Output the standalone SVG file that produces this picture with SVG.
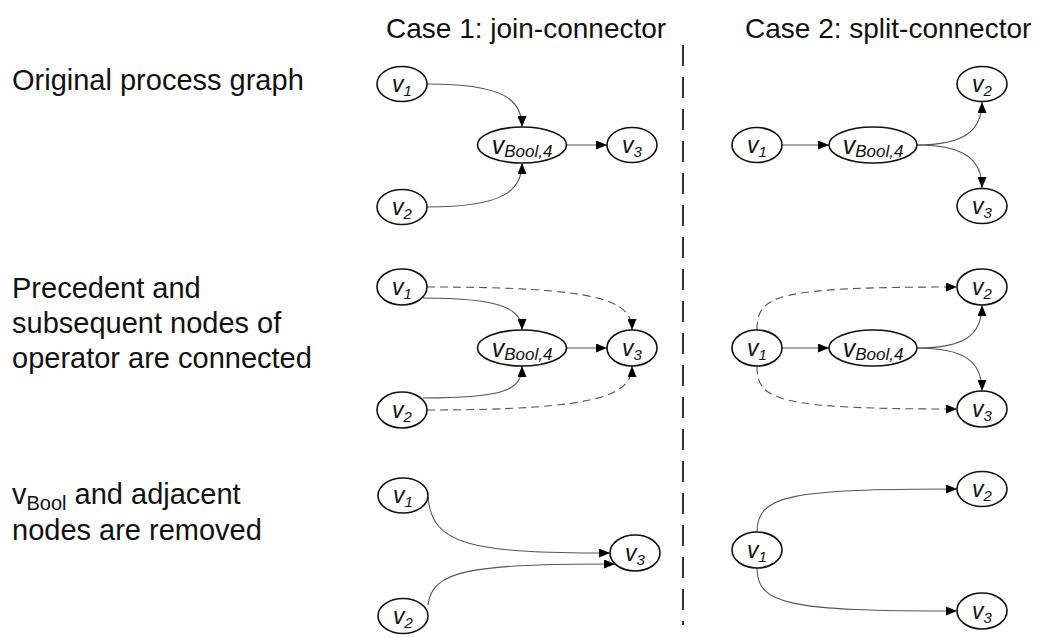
<svg xmlns="http://www.w3.org/2000/svg" width="1051" height="638" viewBox="0 0 1051 638">
<defs>
<marker id="arr" viewBox="0 0 11 9" refX="11" refY="4.5" markerWidth="11" markerHeight="9" markerUnits="userSpaceOnUse" orient="auto">
<path d="M0,0 L11,4.5 L0,9 Z" fill="#000"/>
</marker>
</defs>
<style>
.lbl{font-family:"Liberation Sans",Arial,sans-serif;font-size:29px;fill:#111}
.hdr{font-size:28px}
.nd ellipse{fill:#fff;stroke:#111;stroke-width:1.6}
.nt{font-family:"Liberation Sans",Arial,sans-serif;font-style:italic;font-size:23px;fill:#111;text-anchor:middle}
.sub{font-size:15px}
.ntb{font-size:25px}
.subb{font-size:17px}
.e{fill:none;stroke:#555;stroke-width:1.1;marker-end:url(#arr)}
.d{stroke-dasharray:8 5}
.sep{stroke:#333;stroke-width:2;stroke-dasharray:21 11}
</style>
<rect width="1051" height="638" fill="#fff"/>

<g id="labels">
<text class="lbl hdr" x="386" y="38">Case 1: join-connector</text>
<text class="lbl hdr" x="745" y="38">Case 2: split-connector</text>
<text class="lbl" x="12" y="90">Original process graph</text>
<text class="lbl" x="12" y="298">Precedent and</text>
<text class="lbl" x="12" y="333">subsequent nodes of</text>
<text class="lbl" x="12" y="368">operator are connected</text>
<text class="lbl" x="12" y="504">v<tspan font-size="20" dy="6">Bool</tspan><tspan dy="-6"> and adjacent</tspan></text>
<text class="lbl" x="12" y="540">nodes are removed</text>
</g>

<line id="separator" class="sep" x1="683" y1="45" x2="683" y2="625"/>

<g id="connectors">
<!-- row 1 join -->
<path class="e" d="M427,84 C505,84 522,100 522,127"/>
<path class="e" d="M427,207 C505,207 522,190 522,163"/>
<path class="e" d="M567,145 L607,145"/>
<!-- row 1 split -->
<path class="e" d="M782,145 L829,145"/>
<path class="e" d="M917,145 C965,145 982,130 982,102"/>
<path class="e" d="M917,145 C965,145 982,160 982,188"/>
<!-- row 2 join -->
<path class="e" d="M423,298 C505,298 522,310 522,330"/>
<path class="e d" d="M427,287 C600,287 632,300 632,330"/>
<path class="e" d="M423,398 C505,398 522,390 522,366"/>
<path class="e d" d="M427,410 C600,410 632,395 632,366"/>
<path class="e" d="M567,348 L607,348"/>
<!-- row 2 split -->
<path class="e d" d="M757,330 C757,295 775,287 957,287"/>
<path class="e d" d="M757,366 C757,400 775,409 957,409"/>
<path class="e" d="M782,348 L829,348"/>
<path class="e" d="M917,348 C965,348 982,335 982,305"/>
<path class="e" d="M917,348 C965,348 982,362 982,391"/>
<!-- row 3 join -->
<path class="e" d="M428,497 C432,545 470,553 610,553"/>
<path class="e" d="M428,605 C432,570 470,564 615,564"/>
<!-- row 3 split -->
<path class="e" d="M757,532 C757,495 790,489 957,489"/>
<path class="e" d="M757,568 C757,605 790,611 957,611"/>
</g>

<!-- Row 1, case 1 -->
<g id="r1c1-v1" class="nd"><ellipse cx="402" cy="84" rx="25" ry="17.5"/><text class="nt" x="402" y="92">v<tspan class="sub" dy="4">1</tspan></text></g>
<g id="r1c1-vbool" class="nd"><ellipse cx="522" cy="145" rx="44.5" ry="18"/><text class="nt ntb" x="522" y="154">v<tspan class="subb" dy="3">Bool,4</tspan></text></g>
<g id="r1c1-v3" class="nd"><ellipse cx="632" cy="145" rx="25" ry="17.5"/><text class="nt" x="632" y="153">v<tspan class="sub" dy="4">3</tspan></text></g>
<g id="r1c1-v2" class="nd"><ellipse cx="402" cy="207" rx="25" ry="17.5"/><text class="nt" x="402" y="215">v<tspan class="sub" dy="4">2</tspan></text></g>

<!-- Row 1, case 2 -->
<g id="r1c2-v1" class="nd"><ellipse cx="757" cy="145" rx="25" ry="17.5"/><text class="nt" x="757" y="153">v<tspan class="sub" dy="4">1</tspan></text></g>
<g id="r1c2-vbool" class="nd"><ellipse cx="873" cy="145" rx="44" ry="18"/><text class="nt ntb" x="873" y="154">v<tspan class="subb" dy="3">Bool,4</tspan></text></g>
<g id="r1c2-v2" class="nd"><ellipse cx="982" cy="84" rx="25" ry="17.5"/><text class="nt" x="982" y="92">v<tspan class="sub" dy="4">2</tspan></text></g>
<g id="r1c2-v3" class="nd"><ellipse cx="982" cy="206" rx="25" ry="17.5"/><text class="nt" x="982" y="214">v<tspan class="sub" dy="4">3</tspan></text></g>

<!-- Row 2, case 1 -->
<g id="r2c1-v1" class="nd"><ellipse cx="402" cy="287" rx="25" ry="18"/><text class="nt" x="402" y="295">v<tspan class="sub" dy="4">1</tspan></text></g>
<g id="r2c1-vbool" class="nd"><ellipse cx="522" cy="348" rx="44.5" ry="18"/><text class="nt ntb" x="522" y="357">v<tspan class="subb" dy="3">Bool,4</tspan></text></g>
<g id="r2c1-v3" class="nd"><ellipse cx="632" cy="348" rx="25" ry="18"/><text class="nt" x="632" y="356">v<tspan class="sub" dy="4">3</tspan></text></g>
<g id="r2c1-v2" class="nd"><ellipse cx="402" cy="410" rx="25" ry="18"/><text class="nt" x="402" y="418">v<tspan class="sub" dy="4">2</tspan></text></g>

<!-- Row 2, case 2 -->
<g id="r2c2-v1" class="nd"><ellipse cx="757" cy="348" rx="25" ry="18"/><text class="nt" x="757" y="356">v<tspan class="sub" dy="4">1</tspan></text></g>
<g id="r2c2-vbool" class="nd"><ellipse cx="873" cy="348" rx="44" ry="18"/><text class="nt ntb" x="873" y="357">v<tspan class="subb" dy="3">Bool,4</tspan></text></g>
<g id="r2c2-v2" class="nd"><ellipse cx="982" cy="287" rx="25" ry="18"/><text class="nt" x="982" y="295">v<tspan class="sub" dy="4">2</tspan></text></g>
<g id="r2c2-v3" class="nd"><ellipse cx="982" cy="409" rx="25" ry="18"/><text class="nt" x="982" y="417">v<tspan class="sub" dy="4">3</tspan></text></g>

<!-- Row 3, case 1 -->
<g id="r3c1-v1" class="nd"><ellipse cx="403" cy="495.5" rx="25" ry="17.5"/><text class="nt" x="403" y="503">v<tspan class="sub" dy="4">1</tspan></text></g>
<g id="r3c1-v3" class="nd"><ellipse cx="635" cy="553" rx="25" ry="18"/><text class="nt" x="635" y="561">v<tspan class="sub" dy="4">3</tspan></text></g>
<g id="r3c1-v2" class="nd"><ellipse cx="403" cy="616" rx="25" ry="17.5"/><text class="nt" x="403" y="624">v<tspan class="sub" dy="4">2</tspan></text></g>

<!-- Row 3, case 2 -->
<g id="r3c2-v1" class="nd"><ellipse cx="757" cy="550" rx="25" ry="18"/><text class="nt" x="757" y="558">v<tspan class="sub" dy="4">1</tspan></text></g>
<g id="r3c2-v2" class="nd"><ellipse cx="982" cy="489" rx="25" ry="17.5"/><text class="nt" x="982" y="497">v<tspan class="sub" dy="4">2</tspan></text></g>
<g id="r3c2-v3" class="nd"><ellipse cx="982" cy="611" rx="25" ry="18"/><text class="nt" x="982" y="619">v<tspan class="sub" dy="4">3</tspan></text></g>
</svg>
